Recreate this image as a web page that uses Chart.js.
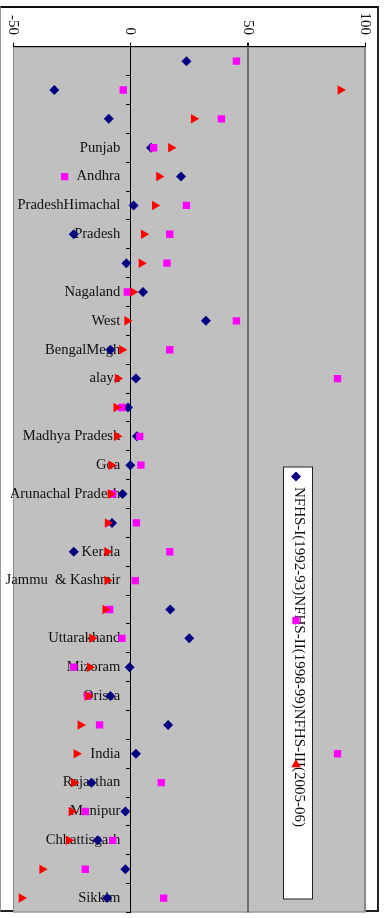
<!DOCTYPE html>
<html>
<head>
<meta charset="utf-8">
<script src="https://cdn.jsdelivr.net/npm/chart.js@4.4.1/dist/chart.umd.min.js"></script>
<style>
  html, body { margin: 0; padding: 0; background: #fff; }
  #wrap { position: relative; width: 385px; height: 918px; overflow: hidden; }
  #frame {
    position: absolute; left: 0; top: 6px; width: 376px; height: 902px;
    border-top: 2px solid #111; border-left: 1px solid #999;
    border-right: 2px solid #222; border-bottom: 2px solid #222;
  }
  #chart { position: absolute; left: 0; top: 0; }
</style>
</head>
<body>
<div id="wrap">
  <div id="frame"></div>
  <canvas id="chart" width="385" height="918"></canvas>
</div>
<script>
// ===== 資料 =====
const states = [
  "", "", "", "Punjab", "Andhra", "PradeshHimachal", "Pradesh", "", "Nagaland", "West",
  "BengalMegh", "alaya", "", "Madhya Pradesh", "Goa", "Arunachal Pradesh", "", "Kerala", "Jammu  & Kashmir", "",
  "Uttarakhand", "Mizoram", "Orissa", "", "India", "Rajasthan", "Manipur", "Chhattisgarh", "", "Sikkim"
];
const seriesNames = ["NFHS-I(1992-93)", "NFHS-II(1998-99)", "NFHS-III(2005-06)"];
const nfhs1 = [
  23.9, -32.4, -9.2, 8.8, 21.6, 1.4, -24.1, -1.7, 5.4, 32.2,
  -8.5, 2.4, -1.0, 2.8, 0, -3.3, -7.8, -24.1, null, 17.0,
  25.1, -0.3, -8.5, 16.1, 2.4, -16.6, -2.1, -13.9, -2.1, -9.9
];
const nfhs2 = [
  45.2, -3.0, 38.8, 9.9, -28.0, 23.9, 16.8, 15.6, -1.3, 45.2,
  16.8, 88.3, -3.6, 4.0, 4.5, -7.5, 2.6, 16.8, 2.1, -8.8,
  -3.6, -24.1, -18.2, -13.1, 88.3, 13.2, -19.2, -7.5, -19.2, 14.2
];
const nfhs3 = [
  null, 89.5, 27.0, 17.3, 12.2, 10.4, 5.7, 4.7, 1.1, -1.4,
  -3.6, -5.4, -6.0, -5.7, -8.1, -8.5, -9.7, -9.9, -9.9, -10.7,
  -16.3, -17.3, -18.0, -21.3, -23.0, -24.1, -25.1, -26.3, -37.6, -46.4
];
const xTicks = [-50, 0, 50, 100];

const SERIF = '"Liberation Serif", "Times New Roman", serif';

// ===== 繪圖區灰底 =====
const plotBg = {
  id: "plotBg",
  beforeDraw(chart) {
    const { ctx, chartArea: a } = chart;
    ctx.save();
    ctx.fillStyle = "#c0c0c0";
    ctx.fillRect(a.left, a.top, a.right - a.left, a.bottom - a.top);
    ctx.strokeStyle = "#8a8a8a";
    ctx.lineWidth = 1;
    ctx.strokeRect(a.left + 0.5, a.top + 0.5, a.right - a.left - 1, a.bottom - a.top - 1);
    ctx.restore();
  }
};

// ===== 類別文字（畫在 0 軸左側，點的下面） =====
const stateLabels = {
  id: "stateLabels",
  beforeDatasetsDraw(chart) {
    const sx = chart.scales.x;
    const sy = chart.scales.y;
    const ctx = chart.ctx;
    const right = sx.getPixelForValue(0) - 10;
    ctx.save();
    ctx.font = "14.6px " + SERIF;
    ctx.fillStyle = "#111";
    ctx.textAlign = "right";
    ctx.textBaseline = "middle";
    states.forEach((name, i) => {
      if (name) ctx.fillText(name, right, sy.getPixelForValue(i));
    });
    ctx.restore();
  }
};

// ===== 上方刻度文字（直排） =====
const topLabels = {
  id: "topLabels",
  afterDraw(chart) {
    const sx = chart.scales.x;
    const ctx = chart.ctx;
    ctx.save();
    ctx.font = "15px " + SERIF;
    ctx.fillStyle = "#111";
    ctx.textAlign = "right";
    ctx.textBaseline = "middle";
    sx.ticks.forEach(t => {
      ctx.save();
      ctx.translate(sx.getPixelForValue(t.value), 35);
      ctx.rotate(Math.PI / 2);
      ctx.fillText(String(t.value), 0, 0);
      ctx.restore();
    });
    ctx.restore();
  }
};

// ===== 直排圖例 =====
const sideLegend = {
  id: "sideLegend",
  afterDraw(chart) {
    const ctx = chart.ctx;
    const box = { left: 283.5, top: 467, width: 29, height: 432 };
    ctx.save();
    ctx.fillStyle = "#fff";
    ctx.fillRect(box.left, box.top, box.width, box.height);
    ctx.strokeStyle = "#222";
    ctx.lineWidth = 1;
    ctx.strokeRect(box.left, box.top, box.width, box.height);

    const cx = box.left + box.width / 2;
    const step = box.height / chart.data.datasets.length;

    // 文字連續排列
    ctx.save();
    ctx.translate(cx + 1, box.top + 20);
    ctx.rotate(Math.PI / 2);
    ctx.font = "15px " + SERIF;
    ctx.fillStyle = "#111";
    ctx.textAlign = "left";
    ctx.textBaseline = "middle";
    ctx.fillText(seriesNames.join(""), 0, 0);
    ctx.restore();

    chart.data.datasets.forEach((ds, i) => {
      ctx.fillStyle = ds.pointBackgroundColor;
      ctx.strokeStyle = ds.pointBackgroundColor;
      Chart.helpers.drawPoint(ctx, {
        pointStyle: ds.pointStyle,
        radius: ds.pointRadius,
        rotation: 0,
        borderWidth: 0
      }, cx - 2, box.top + 9.5 + i * step);
    });
    ctx.restore();
  }
};

function makeSet(label, data, color, style, radius, rotation, order) {
  return {
    label, data, order,
    showLine: false,
    pointStyle: style,
    pointRadius: radius,
    pointRotation: rotation,
    pointBorderWidth: 0,
    pointBackgroundColor: color,
    pointBorderColor: color,
    borderColor: color,
    backgroundColor: color
  };
}

new Chart(document.getElementById("chart"), {
  type: "line",
  data: {
    labels: states,
    datasets: [
      makeSet(seriesNames[0], nfhs1, "#000080", "rectRot", 5, 0, 2),
      makeSet(seriesNames[1], nfhs2, "#ff00ff", "rect", 5.2, 0, 1),
      makeSet(seriesNames[2], nfhs3, "#ff0000", "triangle", 5.5, 90, 0)
    ]
  },
  options: {
    indexAxis: "y",
    responsive: false,
    animation: false,
    devicePixelRatio: 1,
    layout: { padding: { left: 13, right: 20, top: 42.7, bottom: 4.7 } },
    plugins: { legend: { display: false }, tooltip: { enabled: false } },
    scales: {
      x: {
        type: "linear",
        position: "top",
        min: -50,
        max: 100,
        afterBuildTicks: s => { s.ticks = xTicks.map(v => ({ value: v })); },
        ticks: { display: false },
        border: { display: true, color: "#000", width: 1 },
        grid: {
          drawTicks: true,
          tickLength: 4,
          tickColor: "#000",
          color: c => (c.tick && c.tick.value === 0) ? "#000" : (c.tick && c.tick.value === 50 ? "#6e6e6e" : "#8a8a8a"),
          lineWidth: c => (c.tick && c.tick.value === 50) ? 2 : 1
        },
        afterFit: s => { s.height = 4; }
      },
      y: {
        type: "category",
        position: { x: 0 },
        offset: true,
        ticks: { display: false, autoSkip: false },
        border: { display: true, color: "#000", width: 1 },
        grid: {
          offset: true,
          drawOnChartArea: false,
          drawTicks: true,
          tickLength: 4,
          tickColor: "#000"
        },
        afterFit: s => { s.paddingTop = 0; s.paddingBottom = 0; }
      }
    }
  },
  plugins: [plotBg, stateLabels, topLabels, sideLegend]
});
</script>
</body>
</html>
